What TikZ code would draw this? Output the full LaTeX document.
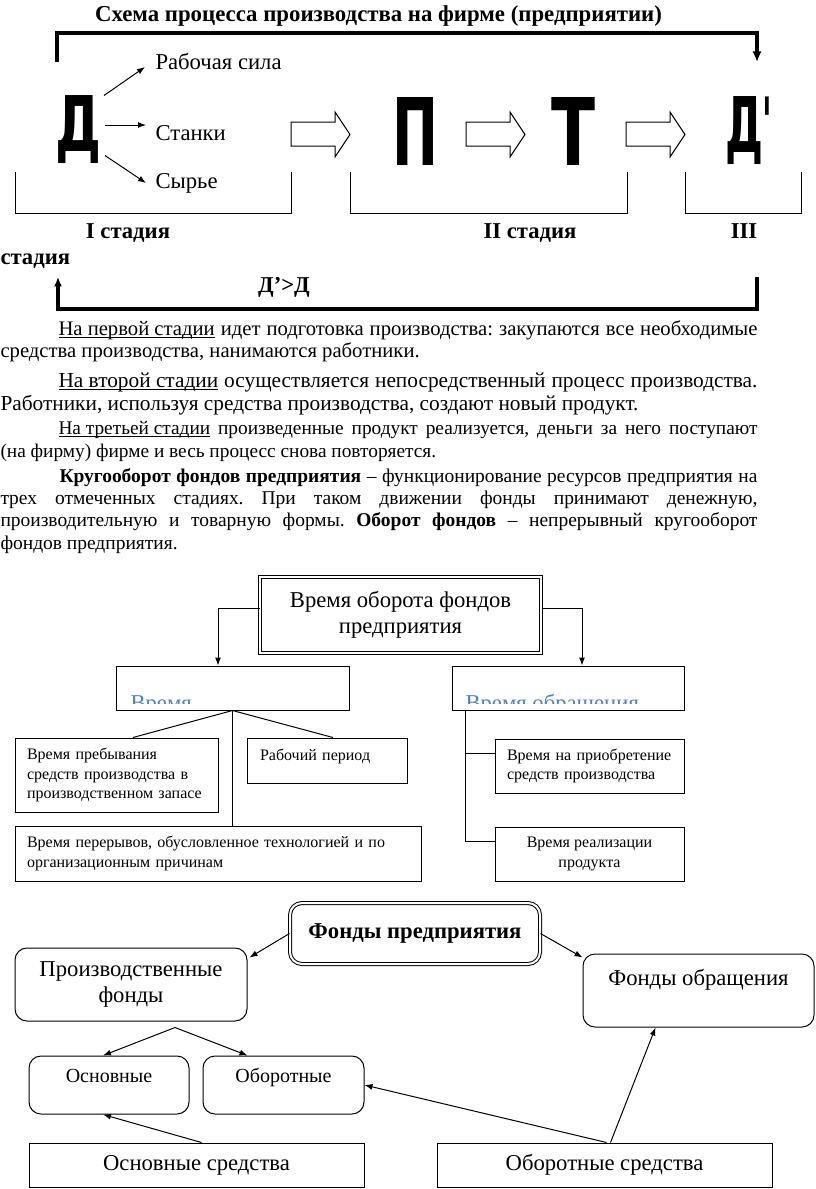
\documentclass[tikz,border=0pt]{standalone}
\usepackage{fontspec}
\setmainfont{Liberation Serif}
\newfontfamily\lettersans{DejaVu Sans}
\usetikzlibrary{arrows.meta,calc}

\definecolor{headblue}{RGB}{79,129,189}

\frenchspacing
\newcommand\jline[2]{\makebox[#1][s]{#2}}
\newcommand\undl[1]{\setbox0\hbox{#1}\rlap{\rule[-2.4pt]{\wd0}{0.6pt}}\box0\relax}

\tikzset{every picture/.style={line width=0.75pt}}
\tikzset{
	bigletter/.style={inner sep=0pt},
	lbl/.style={inner sep=0pt, anchor=base west, font=\fontsize{17}{20}\selectfont},
	stage/.style={inner sep=0pt, anchor=base, font=\fontsize{17}{20}\selectfont\bfseries},
	textline/.style={inner sep=0pt, anchor=base west, font=\fontsize{14.6}{17}\selectfont},
	cuttext/.style={inner sep=0pt, anchor=base west, text=headblue, font=\fontsize{17}{20}\selectfont},
	sqbox/.style={draw, rectangle, inner sep=0pt},
	rbox/.style={draw, rounded corners=9pt, inner sep=0pt},
	small/.style={font=\fontsize{12}{14.5}\selectfont},
	tip/.style={-{Latex[length=6pt,width=4.5pt]}},
	loop/.style={line width=2.3pt}
}

\begin{document}
\begin{tikzpicture}[x=0.75pt,y=0.75pt,yscale=-1,xscale=1]
	\useasboundingbox (0,0) rectangle (816,1189);

	% Title
	\node[inner sep=0pt, anchor=base, font=\fontsize{17.1}{20}\selectfont\bfseries] (title) at (378.5,21) {Схема процесса производства на фирме (предприятии)};

	% Big letters
	\node[bigletter] (D) at (78.5,130) {\resizebox*{34.5pt}{51pt}{\lettersans\bfseries Д}};
	\node[bigletter] (P) at (415.5,131) {\resizebox*{34.5pt}{51pt}{\lettersans\bfseries П}};
	\node[bigletter] (T) at (573.5,131.5) {\resizebox*{33pt}{51pt}{\lettersans\bfseries Т}};
	\node[bigletter] (D2) at (744.5,131) {\resizebox*{28.5pt}{51pt}{\lettersans\bfseries Д}};
	\node[inner sep=0pt, anchor=north west, font=\lettersans\bfseries\fontsize{34}{34}\selectfont] (prime) at ($(D2.north east)+(-2,0)$) {\scalebox{0.7}[1.5]{'}};

	% Text Node
	\node[lbl] (rs) at (155,69) {Рабочая сила};
	\node[lbl] (st) at (155,140) {Станки};
	\node[lbl] (sy) at (155,188) {Сырье};

	\draw[tip] ($(D.north east)+(2,0)$) -- ($(rs.base west)+(-10,-2)$);
	\draw[tip] ($(D.east)+(3,-5)$) -- ($(st.base west)+(-9,-15)$);
	\draw[tip] ($(D.south east)+(3,-9)$) -- ($(sy.base west)+(-9,-5)$);

	%Shape: hollow arrows
	\foreach \ax in {291,466,626}{
		\draw (\ax,122) -- (\ax+44,122) -- (\ax+44,112) -- (\ax+59,134.5) -- (\ax+44,157) -- (\ax+44,146) -- (\ax,146) -- cycle;
	}

	% loop over the stages
	\coordinate (loopL) at (57,62);
	\coordinate (loopR) at (757,62);
	\draw[loop, -{Latex[length=8pt,width=7pt]}] (loopL) |- (757,33) -- (loopR);
	\coordinate (backR) at (757,277);
	\coordinate (backL) at (58,277);
	\draw[loop, -{Latex[length=7pt,width=6pt]}] (backR) |- (58,309) -- (backL);

	% stage brackets
	\draw (15,172) |- (291,213) -- (291,172);
	\draw (350,172) |- (627,213) -- (627,172);
	\draw (685,172) |- (801,213) -- (801,172);

	\node[stage] (s1) at (128,238) {I стадия};
	\node[stage] (s2) at (530,238) {II стадия};
	\node[stage] (s3) at (744,238) {III};
	\node[stage, anchor=base west] (s3b) at (0,264) {стадия};
	\node[stage] (dd) at (284,292) {Д’>Д};

	% Text lines
	\node[textline, font=\fontsize{15.5}{17}\selectfont] (t1) at (58,335) {\jline{524.25pt}{\undl{На первой стадии} идет подготовка производства: закупаются все необходимые}};
	\node[textline, font=\fontsize{15.5}{17}\selectfont] (t2) at (0,357) {средства производства, нанимаются работники.};
	\node[textline, font=\fontsize{16}{17}\selectfont] (t3) at (58,387) {\jline{524.25pt}{\undl{На второй стадии} осуществляется непосредственный процесс производства.}};
	\node[textline, font=\fontsize{16}{17}\selectfont] (t4) at (0,410) {Работники, используя средства производства, создают новый продукт.};
	\node[textline, font=\fontsize{14.5}{17}\selectfont] (t5) at (58,434) {\jline{524.25pt}{\undl{На третьей стадии} произведенные продукт реализуется, деньги за него поступают}};
	\node[textline, font=\fontsize{14.5}{17}\selectfont] (t6) at (0,457) {(на фирму) фирме и весь процесс снова повторяется.};
	\node[textline] (t7) at (59,482) {\jline{523.5pt}{\textbf{Кругооборот фондов предприятия} – функционирование ресурсов предприятия на}};
	\node[textline] (t8) at (0,504) {\jline{567.75pt}{трех отмеченных стадиях. При таком движении фонды принимают денежную,}};
	\node[textline] (t9) at (0,526) {\jline{567.75pt}{производительную и товарную формы. \textbf{Оборот фондов} – непрерывный кругооборот}};
	\node[textline] (t10) at (0,549) {фондов предприятия.};

	% Time of turnover
	\node[sqbox, double, double distance=1.5pt, minimum width=210.75pt, minimum height=57pt, align=center, font=\fontsize{17}{19.5}\selectfont] (vo) at (400.5,615) {Время оборота фондов\\предприятия};
	\node[sqbox, minimum width=174.75pt, minimum height=33pt] (vp) at (232.5,688) {};
	\node[sqbox, minimum width=174pt, minimum height=33pt] (vr) at (568,688) {};
	\begin{scope}
		\clip (117,667) rectangle (348,703);
		\node[cuttext] (vpt) at (130,710) {Время};
	\end{scope}
	\begin{scope}
		\clip (453,667) rectangle (683,703);
		\node[cuttext] (vrt) at (465,710) {Время обращения};
	\end{scope}

	\node[sqbox, small, minimum width=152.25pt, minimum height=55.5pt, text width=134.25pt, align=left] (b1) at (116.5,775) {Время пребывания\\средств производства в\\производственном запасе};
	\node[sqbox, small, minimum width=120pt, minimum height=33.75pt, text width=100.5pt, align=left] (b2) at (327,760.5) {Рабочий период\\[-6pt]\mbox{}};
	\node[sqbox, small, minimum width=304.5pt, minimum height=41.25pt, text width=286.5pt, align=left] (b3) at (218,853.5) {Время перерывов, обусловленное технологией и по\\организационным причинам};
	\node[sqbox, small, minimum width=141.75pt, minimum height=40.5pt, text width=123.75pt, align=left] (b4) at (589.5,766) {Время на приобретение\\средств производства};
	\node[sqbox, small, minimum width=141.75pt, minimum height=40.5pt, align=center] (b5) at (589.5,854) {Время реализации\\продукта};

	\draw[tip] ($(vo.west)+(0,-7)$) -| ($(vp.north)+(-14.5,0)$);
	\draw[tip] ($(vo.east)+(0,-7)$) -| ($(vr.north)+(14,0)$);
	\draw (vp.south) -- ($(b1.north)+(16.5,0)$);
	\draw (vp.south) -- ($(b2.north)+(6,0)$);
	\draw (vp.south) -- (vp.south |- b3.north);
	\coordinate (trunk) at ($(vr.south west)+(14,0)$);
	\coordinate (b4in) at ($(b4.west)+(0,-13)$);
	\draw (trunk) |- ($(b5.west)+(0,-13)$);
	\draw (b4in) -- (trunk |- b4in);

	% Funds of the enterprise
	\node[rbox, double, double distance=1.5pt, minimum width=187.5pt, minimum height=45.75pt, font=\fontsize{17}{19}\selectfont\bfseries] (fp) at (415,933.5) {Фонды предприятия};
	\node[rbox, minimum width=174pt, minimum height=54.75pt, align=center, font=\fontsize{17}{19.5}\selectfont] (pf) at (131,984.5) {Производственные\\фонды};
	\node[rbox, minimum width=173.25pt, minimum height=54.75pt, align=center, font=\fontsize{17}{19.5}\selectfont] (fo) at (698.5,990.5) {Фонды обращения\\\mbox{}};
	\node[rbox, minimum width=120pt, minimum height=43.5pt, align=center, font=\fontsize{15}{14}\selectfont] (os) at (109,1085) {Основные\\\mbox{}};
	\node[rbox, minimum width=120.75pt, minimum height=43.5pt, align=center, font=\fontsize{15}{14}\selectfont] (ob) at (283.5,1085) {Оборотные\\\mbox{}};
	\node[sqbox, minimum width=251.25pt, minimum height=33pt, font=\fontsize{17}{19.5}\selectfont] (osr) at (196.5,1165) {Основные средства};
	\node[sqbox, minimum width=251.25pt, minimum height=33pt, font=\fontsize{17}{19.5}\selectfont] (obr) at (604.5,1165) {Оборотные средства};

	\draw[tip] (fp.west) -- ($(pf.north east)+(2,10)$);
	\draw[tip] (fp.east) -- ($(fo.north west)+(0,4)$);
	\coordinate (split) at ($(pf.south)+(44,6)$);
	\draw[tip] (split) -- ($(os.north)+(-6,0)$);
	\draw[tip] (split) -- ($(ob.north)+(-36,0)$);
	\draw[tip] ($(osr.north)+(5,0)$) -- ($(os.south)+(-6,0)$);
	\draw[tip] ($(obr.north)+(6,0)$) -- ($(fo.south)+(-43,0)$);
	\draw[tip] ($(obr.north)+(2,0)$) -- (ob.east);

\end{tikzpicture}
\end{document}
